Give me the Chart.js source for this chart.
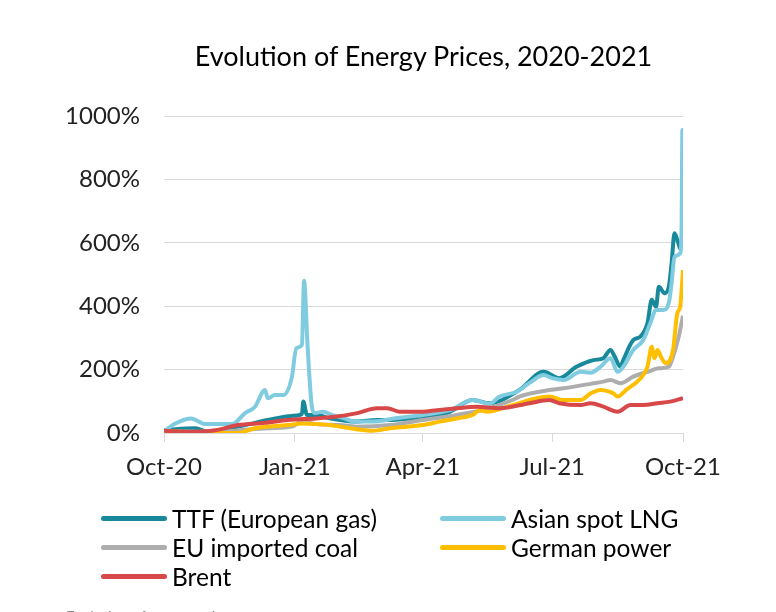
<!DOCTYPE html>
<html>
<head>
<meta charset="utf-8">
<script src="https://cdn.jsdelivr.net/npm/chart.js@4.4.1/dist/chart.umd.min.js"></script>
<style>
  html, body { margin: 0; padding: 0; background: #fff; }
  body { width: 776px; height: 612px; position: relative; overflow: hidden; font-family: Lato, sans-serif; }
  #chart { position: absolute; left: 0; top: 0; }
  #title { position: absolute; left: 164px; width: 519px; top: 42px; text-align: center; font-size: 27px; line-height: 1; color: #000; white-space: nowrap; }
  #legend { position: absolute; left: 101px; top: 504px; display: grid; grid-template-columns: 339px auto; font-size: 24.5px; color: #000; }
  #legend .item { display: flex; align-items: center; height: 29px; white-space: nowrap; }
  #legend .swatch { width: 66px; height: 5px; border-radius: 3px; margin-right: 5px; }
  #caption { position: absolute; left: 66px; top: 607px; font-size: 15px; color: #888; white-space: nowrap; }
</style>
</head>
<body>
<canvas id="chart" width="776" height="612"></canvas>
<div id="title">Evolution of Energy Prices, 2020-2021</div>
<div id="legend"></div>
<div id="caption">Evolution of energy prices</div>
<script>
// x positions are days since 1 Oct 2020, values are % change vs start
const tickDays = [0, 92, 182, 273, 365];
const tickLabels = ['Oct-20', 'Jan-21', 'Apr-21', 'Jul-21', 'Oct-21'];

const ttfDays = [0, 8, 22, 31, 52, 73, 90, 97, 98, 100.5, 107, 117, 135, 150, 159, 173, 187, 201, 217, 229, 250, 267, 278, 290, 302, 309, 314, 317, 321, 323, 330, 335, 340, 343, 346, 348, 352, 355, 357, 359, 361, 363];
const ttfValues = [8, 12, 15, 4, 20, 41, 54, 60, 99, 57, 57, 46, 36, 41, 41, 46, 51, 67, 104, 94, 136, 193, 173, 209, 230, 236, 262, 241, 209, 230, 293, 304, 346, 420, 398, 461, 441, 461, 536, 630, 609, 580];

const lngDays = [0, 8, 19, 29, 48, 57, 64, 71, 73, 78, 84, 90, 93, 97, 98.5, 101, 104, 106, 112, 118, 126, 135, 147, 164, 182, 201, 217, 229, 236, 248, 257, 267, 273, 281, 293, 300, 307, 314, 319, 323, 330, 337, 342, 346, 351, 355, 357, 359, 363, 364, 364.6, 365];
const lngValues = [5, 30, 46, 28, 28, 63, 83, 136, 110, 120, 120, 178, 268, 278, 480, 272, 83, 63, 67, 57, 47, 36, 36, 47, 57, 72, 104, 92, 115, 130, 158, 183, 173, 167, 193, 190, 209, 236, 193, 209, 262, 293, 346, 388, 388, 410, 473, 556, 567, 651, 956, 757];

const coalDays = [0, 17, 36, 52, 73, 90, 97, 107, 124, 135, 159, 182, 206, 229, 245, 250, 264, 281, 300, 309, 314, 321, 330, 340, 348, 355, 358, 362, 365];
const coalValues = [3, 5, 3, 8, 15, 20, 36, 28, 25, 20, 25, 41, 57, 78, 104, 115, 130, 141, 155, 162, 167, 157, 178, 193, 204, 209, 241, 304, 370];

const powerDays = [0, 17, 36, 52, 64, 87, 97, 107, 117, 124, 135, 147, 159, 171, 182, 194, 206, 217, 222, 227, 245, 262, 271, 281, 293, 300, 307, 316, 319, 325, 335, 340, 343, 345, 347, 350, 353, 358, 361, 363, 365];
const powerValues = [5, 3, 0, 0, 15, 25, 30, 28, 25, 20, 12, 7, 15, 20, 25, 36, 46, 57, 72, 67, 88, 110, 115, 104, 104, 125, 136, 125, 115, 136, 172, 209, 272, 236, 262, 236, 220, 262, 378, 398, 514];

const brentDays = [0, 17, 36, 52, 71, 87, 107, 120, 135, 150, 157, 166, 182, 192, 206, 220, 236, 257, 271, 278, 293, 300, 309, 319, 328, 337, 347, 356, 365];
const brentValues = [7, 4, 9, 25, 32, 41, 46, 51, 62, 78, 78, 67, 67, 72, 78, 83, 78, 94, 104, 94, 88, 94, 83, 67, 88, 88, 94, 99, 110];

function points(days, values) {
    return days.map((d, i) => ({x: d, y: values[i]}));
}

function line(label, days, values, color, order) {
    return {
        label,
        data: points(days, values),
        borderColor: color,
        backgroundColor: color,
        borderWidth: 4,
        pointRadius: 0,
        cubicInterpolationMode: 'monotone',
        fill: false,
        order
    };
}

// later series sit on top, like the original
const datasets = [
    line('TTF (European gas)', ttfDays, ttfValues, '#17899b', 5),
    line('Asian spot LNG', lngDays, lngValues, '#7fcbe0', 4),
    line('EU imported coal', coalDays, coalValues, '#adadad', 3),
    line('German power', powerDays, powerValues, '#ffbf00', 2),
    line('Brent', brentDays, brentValues, '#d94848', 1),
];

const tickFont = {family: 'Lato, sans-serif', size: 24};

const chart = new Chart(document.getElementById('chart'), {
    type: 'line',
    data: {datasets},
    options: {
        responsive: false,
        animation: false,
        devicePixelRatio: 1,
        layout: {padding: {left: 0, right: 93, top: 116, bottom: 119}},
        scales: {
            x: {
                type: 'linear',
                min: 0,
                max: 365,
                afterBuildTicks: s => { s.ticks = tickDays.map(v => ({value: v})); },
                afterFit: s => { s.height = 60; },
                grid: {drawOnChartArea: false, drawTicks: true, tickLength: 9, color: '#d9d9d9'},
                border: {color: '#d9d9d9'},
                ticks: {
                    autoSkip: false,
                    maxRotation: 0,
                    padding: 11,
                    color: '#222',
                    font: tickFont,
                    callback: v => tickLabels[tickDays.indexOf(v)]
                }
            },
            y: {
                min: 0,
                max: 1000,
                afterFit: s => { s.width = 164; },
                grid: {color: '#d9d9d9', drawTicks: false},
                border: {display: false},
                ticks: {
                    stepSize: 200,
                    padding: 24,
                    color: '#222',
                    font: tickFont,
                    callback: v => v + '%'
                }
            }
        },
        plugins: {
            legend: {display: false},
            title: {display: false},
            tooltip: {enabled: false}
        }
    }
});

// legend in two columns, built from the datasets in their original order
const legendEl = document.getElementById('legend');
chart.data.datasets.forEach(ds => {
    const item = document.createElement('div');
    item.className = 'item';
    const sw = document.createElement('span');
    sw.className = 'swatch';
    sw.style.background = ds.borderColor;
    const txt = document.createElement('span');
    txt.textContent = ds.label;
    item.appendChild(sw);
    item.appendChild(txt);
    legendEl.appendChild(item);
});
</script>
</body>
</html>
